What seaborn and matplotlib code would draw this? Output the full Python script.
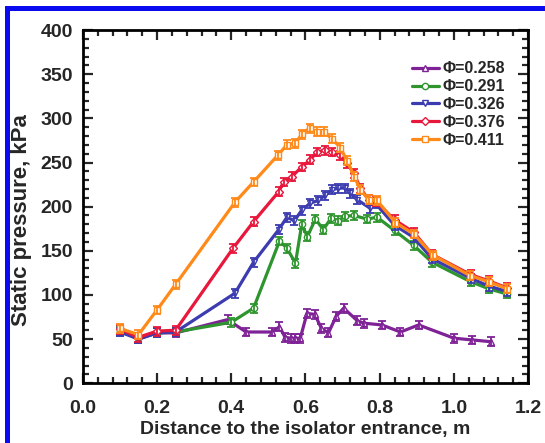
import numpy as np
import pandas as pd
import seaborn as sns
import matplotlib.pyplot as plt
from matplotlib.patches import Rectangle
from matplotlib.ticker import MultipleLocator

# Datos: posicion (m) y presion estatica (kPa)
x_0258 = [0.10, 0.15, 0.20, 0.25, 0.39, 0.44, 0.51, 0.53, 0.545, 0.56, 0.572, 0.586, 0.604, 0.625,
          0.643, 0.662, 0.683, 0.703, 0.739, 0.757, 0.806, 0.856, 0.905, 1.00, 1.05, 1.10]
p_0258 = [60, 50, 57, 57, 72, 58, 58, 64, 52, 51, 51, 51, 79, 78,
          62, 57, 76, 85, 71, 68, 66, 58, 66, 51, 49, 47]

x_0291 = [0.10, 0.15, 0.20, 0.25, 0.40, 0.46, 0.53, 0.55, 0.573, 0.59, 0.605, 0.627, 0.648,
          0.669, 0.688, 0.706, 0.73, 0.766, 0.793, 0.84, 0.892, 0.941, 1.045, 1.094, 1.143]
p_0291 = [59, 51, 57, 58, 69, 85, 161, 153, 136, 180, 166, 186, 174,
          187, 184, 189, 190, 186, 188, 173, 156, 137, 115, 107, 101]

x_0326 = [0.10, 0.15, 0.20, 0.25, 0.41, 0.46, 0.528, 0.55, 0.57, 0.59, 0.613, 0.635, 0.653,
          0.671, 0.689, 0.707, 0.721, 0.739, 0.775, 0.79, 0.84, 0.892, 0.941, 1.045, 1.094, 1.143]
p_0326 = [58, 50, 57, 58, 102, 137, 174, 188, 184, 196, 204, 207, 213,
          219, 221, 221, 215, 208, 198, 203, 179, 165, 141, 119, 110, 104]

x_0376 = [0.10, 0.15, 0.20, 0.25, 0.405, 0.46, 0.528, 0.541, 0.563, 0.59, 0.613, 0.631, 0.653,
          0.671, 0.694, 0.712, 0.73, 0.748, 0.77, 0.79, 0.84, 0.892, 0.941, 1.045, 1.094, 1.143]
p_0376 = [61, 52, 59, 60, 153, 183, 217, 228, 234, 245, 253, 262, 264,
          262, 258, 249, 238, 221, 208, 206, 185, 171, 146, 123, 116, 108]

x_0411 = [0.10, 0.15, 0.20, 0.25, 0.41, 0.46, 0.525, 0.55, 0.573, 0.59, 0.611, 0.631, 0.649,
          0.671, 0.694, 0.712, 0.732, 0.748, 0.77, 0.793, 0.842, 0.892, 0.944, 1.043, 1.094, 1.143]
p_0411 = [62, 55, 83, 112, 205, 228, 258, 270, 272, 282, 289, 285, 285,
          277, 267, 252, 234, 219, 208, 207, 182, 169, 145, 122, 115, 107]

etiquetas = ['Φ=0.258', 'Φ=0.291', 'Φ=0.326', 'Φ=0.376', 'Φ=0.411']
colores = ['#7e2296', '#2e952e', '#3c3cb0', '#e8173c', '#ff8a1a']
marcadores = ['^', 'o', 'v', 'D', 's']
error_kpa = 5  # incertidumbre aproximada de las barras

series = [(x_0258, p_0258), (x_0291, p_0291), (x_0326, p_0326), (x_0376, p_0376), (x_0411, p_0411)]

sns.set_theme(style='ticks')
plt.rcParams['font.family'] = ['Liberation Sans', 'DejaVu Sans']
plt.rcParams['font.weight'] = 'bold'

fig = plt.figure(figsize=(5.45, 4.43), dpi=100)
ax = fig.add_axes([0.152, 0.135, 0.817, 0.797])

for (xs, ps), lab, col, mk in zip(series, etiquetas, colores, marcadores):
    df = pd.DataFrame({'x': xs, 'p': ps})
    sns.lineplot(data=df, x='x', y='p', color=col, marker=mk, markersize=4.5,
                 markerfacecolor='white', markeredgecolor=col, markeredgewidth=1,
                 linewidth=2.3, label=lab, ax=ax, sort=False)
    ax.errorbar(df['x'], df['p'], yerr=error_kpa, fmt='none', ecolor=col,
                elinewidth=1.3, capsize=3, capthick=1.3)

ax.set_xlim(0, 1.2)
ax.set_ylim(0, 400)
ax.set_xticks(np.arange(0, 1.21, 0.2))
ax.set_xticklabels([f'{v:.1f}' for v in np.arange(0, 1.21, 0.2)])
ax.xaxis.set_minor_locator(MultipleLocator(0.04))
ax.yaxis.set_major_locator(MultipleLocator(50))
ax.yaxis.set_minor_locator(MultipleLocator(10))
ax.tick_params(which='both', direction='in', top=True, right=True, width=1.6, labelsize=14)
ax.tick_params(which='major', length=7)
ax.tick_params(which='minor', length=4)
ax.tick_params(axis='x', which='major', pad=12)
ax.tick_params(axis='y', which='major', pad=7)
for s in ax.spines.values():
    s.set_linewidth(2)
    s.set_color('black')

ax.set_xlabel('Distance to the isolator entrance, m', fontsize=14, fontweight='bold', labelpad=3)
ax.set_ylabel('Static pressure, kPa', fontsize=16, fontweight='bold')
ax.yaxis.set_label_coords(-0.115, 0.462)

leg = ax.legend(loc='upper right', bbox_to_anchor=(0.962, 0.93), frameon=False, fontsize=11.5,
                handlelength=1.7, handletextpad=0.2, labelspacing=0.18, borderaxespad=0)
for t in leg.get_texts():
    t.set_fontweight('bold')

# Marco azul de la captura original
fig.patches.append(Rectangle((6.5 / 545, -0.2), 1.3, 1.2 + (443 - 7.5) / 443 - 1.0,
                             transform=fig.transFigure, fill=False, edgecolor='#0a0af0',
                             linewidth=3.6))

plt.savefig('out.png', dpi=100)
